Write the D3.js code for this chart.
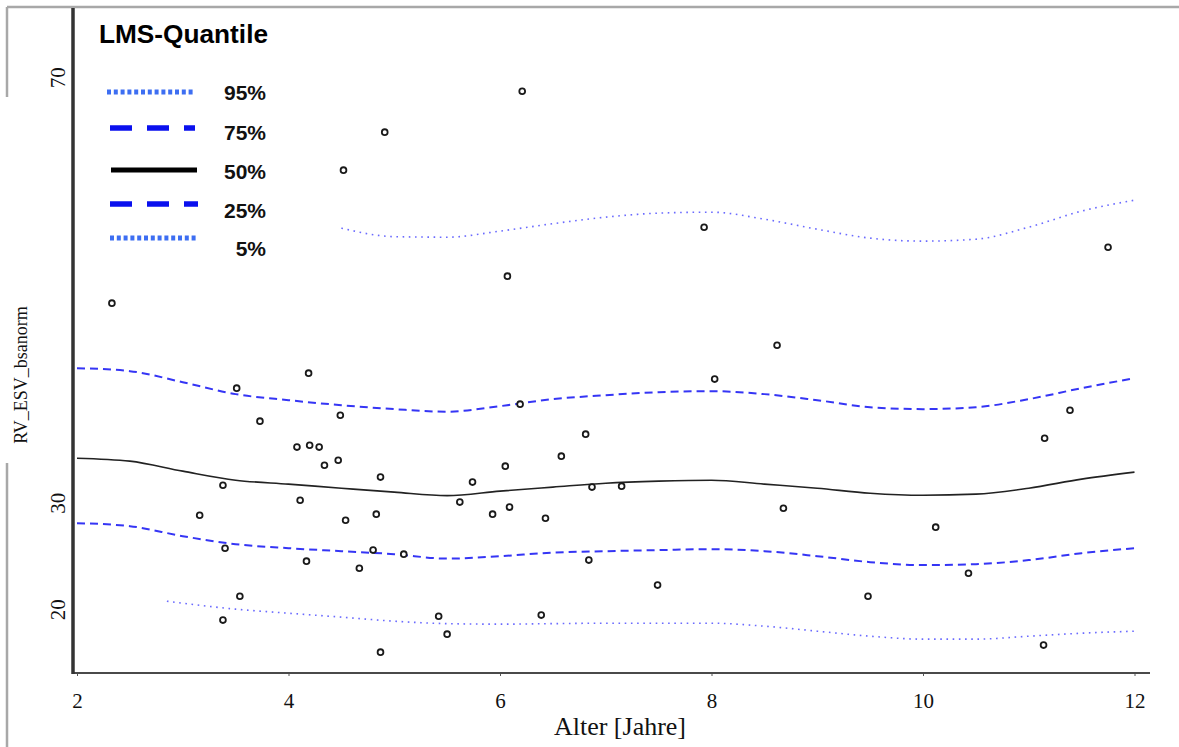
<!DOCTYPE html>
<html>
<head>
<meta charset="utf-8">
<script src="https://cdn.jsdelivr.net/npm/d3@7"></script>
<style>
  html, body { margin: 0; padding: 0; background: #fff; }
  svg { display: block; }
</style>
</head>
<body>
<div id="chart"></div>
<script>
// ---- Data ----
const curveAges = [2,2.5,3,3.5,4,4.5,5,5.5,6,6.5,7,7.5,8,8.5,9,9.5,10,10.5,11,11.5,12];
const q50 = [34.19,33.91,32.97,32.12,31.75,31.37,31.00,30.67,31.09,31.47,31.84,32.03,32.12,31.75,31.37,30.90,30.71,30.81,31.37,32.22,32.88];
const q75 = [42.65,42.37,41.33,40.21,39.64,39.17,38.80,38.56,39.08,39.74,40.11,40.39,40.49,40.21,39.64,38.98,38.80,38.98,39.74,40.77,41.71];
const q25 = [28.08,27.80,26.86,26.11,25.73,25.45,25.17,24.75,24.98,25.31,25.45,25.55,25.64,25.45,24.98,24.42,24.14,24.23,24.61,25.26,25.73];
const ages95 = [4.5,5,5.5,6,6.5,7,7.5,8,8.5,9,9.5,10,10.5,11,11.5,12];
const q95 = [55.81,55.01,54.96,55.53,56.23,56.84,57.22,57.31,56.65,55.71,54.87,54.59,54.77,55.90,57.41,58.44];
const ages5 = [2.85,3,3.5,4,4.5,5,5.5,6,6.5,7,7.5,8,8.5,9,9.5,10,10.5,11,11.5,12];
const q5 = [20.75,20.56,20.00,19.62,19.25,18.87,18.64,18.59,18.64,18.68,18.68,18.68,18.40,17.93,17.46,17.18,17.18,17.46,17.74,17.93];

const obsAge = [2.33,3.51,3.73,4.19,4.08,4.20,4.29,4.49,4.47,4.34,4.11,3.38,3.16,3.40,3.54,3.38,4.17,4.54,4.83,4.87,4.80,4.67,5.09,5.42,5.50,4.87,4.52,4.91,6.21,6.07,6.19,5.62,5.74,5.93,6.05,6.09,6.43,6.58,6.81,6.39,6.84,6.87,7.15,7.49,7.93,8.03,8.62,8.68,9.48,10.12,10.43,11.14,11.15,11.39,11.75];
const obsValue = [48.76,40.77,37.67,42.18,35.23,35.41,35.23,38.23,34.00,33.53,30.24,31.65,28.83,25.73,21.22,18.97,24.51,28.36,28.93,32.41,25.55,23.85,25.17,19.34,17.65,15.96,61.26,64.83,68.68,51.30,39.27,30.06,31.94,28.93,33.44,29.59,28.55,34.38,36.45,19.44,24.61,31.47,31.56,22.26,55.90,41.62,44.81,29.49,21.22,27.71,23.38,16.62,36.07,38.70,54.02];

const xTicks = [2,4,6,8,10,12];
const yTicks = [20,30,70];
const legendLabels = ["95%","75%","50%","25%","5%"];

// ---- Chart ----
const W = 1179, H = 747;
const svg = d3.select("#chart").append("svg").attr("width", W).attr("height", H);
svg.append("rect").attr("width", W).attr("height", H).attr("fill", "#fff");

const x = d3.scaleLinear().domain([2, 12]).range([77, 1134.5]);
const y = d3.scaleLinear().domain([14, 76.5]).range([673, 8]);

// outer frame fragments
svg.append("line").attr("x1", 7).attr("x2", W).attr("y1", 7).attr("y2", 7)
  .attr("stroke", "#a8a8a8").attr("stroke-width", 2.5);
svg.append("line").attr("x1", 7).attr("x2", 7).attr("y1", 7).attr("y2", 97)
  .attr("stroke", "#a8a8a8").attr("stroke-width", 2.5);
svg.append("line").attr("x1", 7).attr("x2", 7).attr("y1", 463).attr("y2", H)
  .attr("stroke", "#a8a8a8").attr("stroke-width", 2.5);

// x axis
const xAxis = svg.append("g").attr("transform", "translate(0,673)")
  .call(d3.axisBottom(x).tickValues(xTicks).tickFormat(d3.format("d")).tickSize(3).tickPadding(17));
xAxis.select(".domain").remove();
xAxis.selectAll(".tick line").attr("stroke", "#555");
xAxis.selectAll(".tick text").attr("font-family", "'Liberation Serif', 'Times New Roman', serif")
  .attr("font-size", 21).attr("fill", "#111");
svg.append("line").attr("x1", 73).attr("x2", 1150).attr("y1", 673).attr("y2", 673)
  .attr("stroke", "#4a4a4a").attr("stroke-width", 2);

// y axis
const yAxis = svg.append("g").attr("transform", "translate(73,0)")
  .call(d3.axisLeft(y).tickValues(yTicks).tickFormat(d3.format("d")).tickSize(0));
yAxis.select(".domain").remove();
yAxis.selectAll(".tick text")
  .attr("font-family", "'Liberation Serif', 'Times New Roman', serif")
  .attr("font-size", 21).attr("fill", "#111")
  .attr("text-anchor", "middle").attr("dy", 0).attr("x", 0)
  .attr("transform", "translate(-8,0) rotate(-90)");
svg.append("line").attr("x1", 73).attr("x2", 73).attr("y1", 8).attr("y2", 674)
  .attr("stroke", "#333").attr("stroke-width", 3.5);

// axis titles
svg.append("text").attr("x", 620).attr("y", 735).attr("text-anchor", "middle")
  .attr("font-family", "'Liberation Serif', 'Times New Roman', serif").attr("font-size", 26)
  .attr("fill", "#111").text("Alter [Jahre]");
svg.append("text").attr("transform", "translate(27,375) rotate(-90)").attr("text-anchor", "middle")
  .attr("font-family", "'Liberation Serif', 'Times New Roman', serif").attr("font-size", 18)
  .attr("fill", "#111").text("RV_ESV_bsanorm");

// curves
const line = d3.line().x(d => x(d[0])).y(d => y(d[1])).curve(d3.curveMonotoneX);
const zip = (a, b) => a.map((v, i) => [v, b[i]]);

svg.append("path").datum(zip(ages95, q95)).attr("d", line).attr("fill", "none")
  .attr("stroke", "#6a6aff").attr("stroke-width", 1.6).attr("stroke-dasharray", "1.6,4.6");
svg.append("path").datum(zip(ages5, q5)).attr("d", line).attr("fill", "none")
  .attr("stroke", "#6a6aff").attr("stroke-width", 1.6).attr("stroke-dasharray", "1.6,4.6");
svg.append("path").datum(zip(curveAges, q75)).attr("d", line).attr("fill", "none")
  .attr("stroke", "#3535f5").attr("stroke-width", 2).attr("stroke-dasharray", "8,5");
svg.append("path").datum(zip(curveAges, q25)).attr("d", line).attr("fill", "none")
  .attr("stroke", "#3535f5").attr("stroke-width", 2).attr("stroke-dasharray", "8,5");
svg.append("path").datum(zip(curveAges, q50)).attr("d", line).attr("fill", "none")
  .attr("stroke", "#222").attr("stroke-width", 1.6);

// observations
svg.append("g").selectAll("circle").data(zip(obsAge, obsValue)).join("circle")
  .attr("cx", d => x(d[0])).attr("cy", d => y(d[1])).attr("r", 2.9)
  .attr("fill", "#fff").attr("stroke", "#1a1a1a").attr("stroke-width", 1.8);

// legend
svg.append("text").attr("x", 99).attr("y", 43)
  .attr("font-family", "'Liberation Sans', Arial, sans-serif").attr("font-weight", "bold")
  .attr("font-size", 25).attr("textLength", 169).attr("lengthAdjust", "spacingAndGlyphs")
  .attr("fill", "#000").text("LMS-Quantile");

const legendStyles = [
  {y: 92, x1: 107, x2: 195, color: "#3d6ef2", w: 5, dash: "4,2.8"},
  {y: 128, x1: 110, x2: 195, color: "#0a10ee", w: 5.5, dash: "22,15"},
  {y: 170, x1: 111, x2: 197, color: "#000", w: 5, dash: null},
  {y: 204, x1: 110, x2: 198, color: "#0a10ee", w: 5.5, dash: "22,15"},
  {y: 238, x1: 110, x2: 197, color: "#3d6ef2", w: 5, dash: "4,2.8"}
];
const textY = [100, 140, 179, 218, 256];
legendLabels.forEach((lab, i) => {
  const s = legendStyles[i];
  const l = svg.append("line").attr("x1", s.x1).attr("x2", s.x2).attr("y1", s.y).attr("y2", s.y)
    .attr("stroke", s.color).attr("stroke-width", s.w);
  if (s.dash) l.attr("stroke-dasharray", s.dash);
  svg.append("text").attr("x", 266).attr("y", textY[i]).attr("text-anchor", "end")
    .attr("font-family", "'Liberation Sans', Arial, sans-serif").attr("font-weight", "bold")
    .attr("font-size", 21).attr("fill", "#111").text(lab);
});
</script>
</body>
</html>
